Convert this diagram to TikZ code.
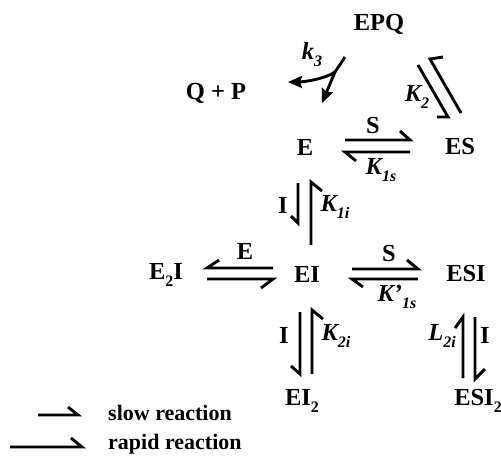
\documentclass[tikz,border=0pt]{standalone}
\usepackage{fontspec}
\setmainfont{Liberation Serif}
\usetikzlibrary{arrows.meta,calc}
\newcommand{\lowsub}[1]{\raisebox{-0.28em}{\fontsize{16}{16}\selectfont #1}}
\begin{document}
\begin{tikzpicture}[x=1pt,y=-1pt,
  ln/.style={line width=2.9pt, line cap=butt, line join=miter},
  lbl/.style={inner sep=0pt, font=\fontsize{24.5}{28}\selectfont\bfseries},
  ilbl/.style={inner sep=0pt, font=\fontsize{24.5}{28}\selectfont\bfseries\itshape},
  leg/.style={inner sep=0pt, anchor=west, font=\fontsize{22}{26}\selectfont\bfseries},
  tip/.style={-{Stealth[length=14pt,width=12pt,inset=2pt]}}]
\useasboundingbox (0,0) rectangle (501,459);
% species
\node[lbl] (EPQ) at (379,24) {EPQ};
\node[lbl] (QP) at (216,93) {Q + P};
\node[lbl] (E) at (305,147) {E};
\node[lbl] (ES) at (460,147) {ES};
\node[lbl] (E2I) at (166,275) {E\lowsub{2}I};
\node[lbl] (EI) at (307,274) {EI};
\node[lbl] (ESI) at (466,274) {ESI};
\node[lbl] (EI2) at (302,401) {EI\lowsub{2}};
\node[lbl] (ESI2) at (478,401) {ESI\lowsub{2}};
% labels
\node[ilbl] (k3) at (312,55) {k\lowsub{3}};
\node[ilbl] (K2) at (417,97) {K\lowsub{2}};
\node[lbl] (S1) at (373,126) {S};
\node[ilbl] (K1s) at (381,170) {K\lowsub{1s}};
\node[lbl] (I1) at (283,205) {I};
\node[ilbl] (K1i) at (335,207) {K\lowsub{1i}};
\node[lbl] (Elab) at (245,251) {E};
\node[lbl] (S2) at (389,254) {S};
\node[ilbl] (K1sp) at (397,297) {K’\lowsub{1s}};
\node[lbl] (I2) at (284,335) {I};
\node[ilbl] (K2i) at (336,336) {K\lowsub{2i}};
\node[ilbl] (L2i) at (442,336) {L\lowsub{2i}};
\node[lbl] (I3) at (485,335) {I};
% k3 irreversible step
\coordinate (k3a) at ($(EPQ)+(-34,33)$);
\coordinate (k3b) at ($(EPQ)+(-44,48)$);
\draw[ln] (k3a) -- (k3b);
\draw[ln,tip] (k3b) .. controls +(-10,7) and +(15,0) .. ($(QP)+(72,-11)$);
\draw[ln,tip] (k3b) -- ($(E)+(17,-44)$);
% EPQ <-> ES
\draw[ln] ($(ES)+(-42,-82)$) -- ($(ES)+(-12,-30)$) -- ++(-11,0);
\draw[ln] ($(ES)+(1,-34)$) -- ($(ES)+(-30,-88)$) -- ++(13,-2);
% E <-> ES
\draw[ln] ($(E)+(40,-7)$) -- ($(ES)+(-50,-7)$) -- ++(-10,-9);
\draw[ln] ($(E)+(51,14)$) -- ($(E)+(40,5)$) -- ($(ES)+(-50,5)$);
% E <-> EI
\draw[ln] ($(E)+(-7,36)$) -- ($(E)+(-7,76)$) -- ++(-7,-7);
\draw[ln] ($(E)+(6,98)$) -- ($(E)+(6,35)$) -- ++(11,9);
% E2I <-> EI
\draw[ln] ($(EI)+(-88,-14)$) -- ($(EI)+(-100,-6)$) -- ($(EI)+(-34,-6)$);
\draw[ln] ($(EI)+(-100,5)$) -- ($(EI)+(-34,5)$) -- ++(-12,9);
% EI <-> ESI
\draw[ln] ($(EI)+(45,-5)$) -- ($(EI)+(111,-5)$) -- ++(-11,-9);
\draw[ln] ($(EI)+(56,13)$) -- ($(EI)+(45,5)$) -- ($(EI)+(111,5)$);
% EI <-> EI2
\draw[ln] ($(EI2)+(-2,-89)$) -- ($(EI2)+(-2,-27)$) -- ++(-9,-8);
\draw[ln] ($(EI2)+(10,-27)$) -- ($(EI2)+(10,-91)$) -- ++(11,9);
% ESI <-> ESI2
\draw[ln] ($(ESI)+(-3,104)$) -- ($(ESI)+(-3,43)$) -- ++(-8,11);
\draw[ln] ($(ESI)+(9,43)$) -- ($(ESI)+(9,105)$) -- ++(10,-10);
% legend
\node[leg] (slow) at (108,413) {slow reaction};
\node[leg] (rapid) at (108,444) {rapid reaction};
\draw[ln] ($(slow.west)+(-70,2)$) -- ($(slow.west)+(-30,2)$) -- ++(-10,-8);
\draw[ln] ($(rapid.west)+(-98,3)$) -- ($(rapid.west)+(-26,3)$) -- ++(-11,-9);
\end{tikzpicture}
\end{document}
